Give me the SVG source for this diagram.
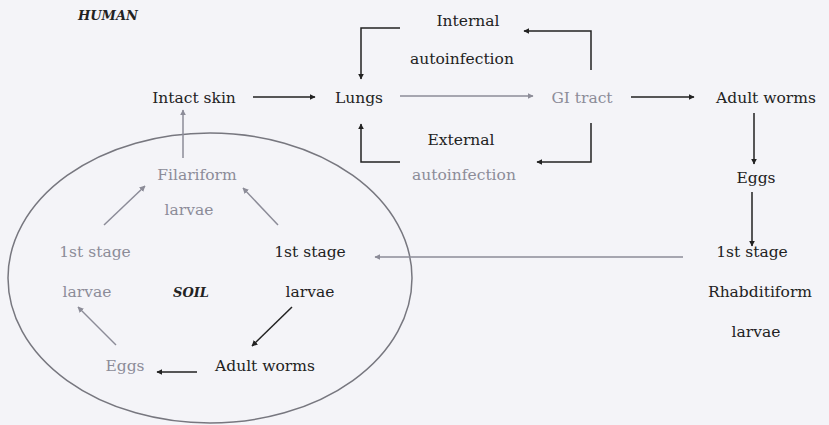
<svg xmlns="http://www.w3.org/2000/svg" width="829" height="425" viewBox="0 0 829 425">
<style>
.t{font-family:"DejaVu Serif","Liberation Serif",serif;font-size:15.5px;text-anchor:middle;fill:#222}
.g{fill:#8c8c98}
.b{font-weight:bold;font-style:italic;font-size:13px}
.k{stroke:#222;stroke-width:1.5;fill:none}
.kg{stroke:#8c8c98;stroke-width:1.5;fill:none}
</style>
<defs>
<marker id="ah" viewBox="0 0 10 10" refX="9" refY="5" markerWidth="6" markerHeight="6" orient="auto" markerUnits="userSpaceOnUse"><path d="M0,0L10,5L0,10z" fill="#222"/></marker>
<marker id="ahg" viewBox="0 0 10 10" refX="9" refY="5" markerWidth="6" markerHeight="6" orient="auto" markerUnits="userSpaceOnUse"><path d="M0,0L10,5L0,10z" fill="#8c8c98"/></marker>
</defs>
<rect width="829" height="425" fill="#f4f4f8"/>
<ellipse cx="210" cy="278" rx="202" ry="145" fill="none" stroke="#77777f" stroke-width="1.5"/>
<g id="connectors">
<path class="k" d="M253 97H315" marker-end="url(#ah)"/>
<path class="kg" d="M400 96H533" marker-end="url(#ahg)"/>
<path class="k" d="M631 97H694" marker-end="url(#ah)"/>
<path class="k" d="M591 70V31H524" marker-end="url(#ah)"/>
<path class="k" d="M400 28H361V79" marker-end="url(#ah)"/>
<path class="k" d="M591 123V162H537" marker-end="url(#ah)"/>
<path class="k" d="M400 162H361V124" marker-end="url(#ah)"/>
<path class="k" d="M754 113V164" marker-end="url(#ah)"/>
<path class="k" d="M752 192V246" marker-end="url(#ah)"/>
<path class="kg" d="M683 257H375" marker-end="url(#ahg)"/>
<path class="kg" d="M183 158V110" marker-end="url(#ahg)"/>
<path class="kg" d="M104 225L145 186" marker-end="url(#ahg)"/>
<path class="kg" d="M278 225L243 188" marker-end="url(#ahg)"/>
<path class="k" d="M292 307L252 346" marker-end="url(#ah)"/>
<path class="kg" d="M116 345L78 307" marker-end="url(#ahg)"/>
<path class="k" d="M197 372H157" marker-end="url(#ah)"/>
</g>
<g id="human"><text class="t b" x="108" y="20">HUMAN</text></g>
<g id="soil"><text class="t b" x="191" y="297">SOIL</text></g>
<g id="intact-skin"><text class="t" x="194" y="103">Intact skin</text></g>
<g id="lungs"><text class="t" x="359" y="103">Lungs</text></g>
<g id="gi-tract"><text class="t g" x="582" y="103">GI tract</text></g>
<g id="adult-worms-human"><text class="t" x="766" y="103">Adult worms</text></g>
<g id="internal"><text class="t" x="468" y="26">Internal</text><text class="t" x="462" y="64">autoinfection</text></g>
<g id="external"><text class="t" x="461" y="145">External</text><text class="t g" x="464" y="180">autoinfection</text></g>
<g id="eggs-human"><text class="t" x="756" y="183">Eggs</text></g>
<g id="rhabditiform"><text class="t" x="752" y="257">1st stage</text><text class="t" x="760" y="297">Rhabditiform</text><text class="t" x="756" y="337">larvae</text></g>
<g id="filariform"><text class="t g" x="197" y="180">Filariform</text><text class="t g" x="189" y="215">larvae</text></g>
<g id="first-stage-left"><text class="t g" x="95" y="257">1st stage</text><text class="t g" x="87" y="297">larvae</text></g>
<g id="first-stage-right"><text class="t" x="310" y="257">1st stage</text><text class="t" x="310" y="297">larvae</text></g>
<g id="eggs-soil"><text class="t g" x="125" y="371">Eggs</text></g>
<g id="adult-worms-soil"><text class="t" x="265" y="371">Adult worms</text></g>
</svg>
